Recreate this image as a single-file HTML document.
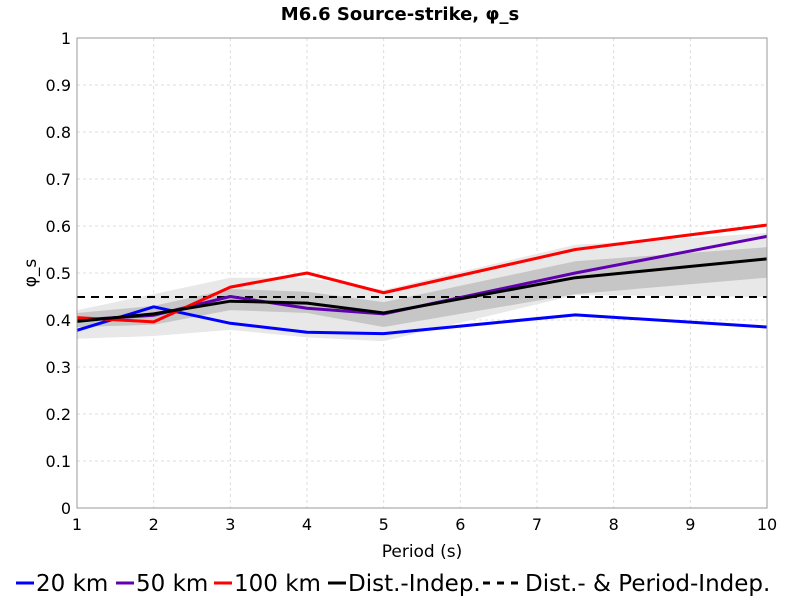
<!DOCTYPE html>
<html><head><meta charset="utf-8"><style>
body{margin:0;background:#fff;font-family:"DejaVu Sans","Liberation Sans",sans-serif}
svg{display:block}
</style></head><body>
<svg id="chart" width="800" height="600" font-family="DejaVu Sans, Liberation Sans, sans-serif"></svg>
<script>
const periods=[1,2,3,4,5,7.5,10];
const km20=[0.378,0.428,0.393,0.374,0.371,0.411,0.385];
const km50=[0.400,0.410,0.450,0.425,0.413,0.500,0.578];
const km100=[0.405,0.396,0.470,0.500,0.458,0.550,0.602];
const indep=[0.397,0.413,0.440,0.436,0.415,0.490,0.530];
const darkLo=[0.385,0.390,0.421,0.415,0.385,0.455,0.490];
const darkHi=[0.415,0.430,0.466,0.460,0.438,0.525,0.555];
const lightLo=[0.360,0.366,0.379,0.363,0.355,0.453,0.449];
const lightHi=[0.421,0.455,0.490,0.490,0.464,0.560,0.585];
const periodIndep=0.449;
const xTicks=[1,2,3,4,5,6,7,8,9,10];
const yTicks=[0,0.1,0.2,0.3,0.4,0.5,0.6,0.7,0.8,0.9,1];
const X0=77,X1=767,Y0=508,Y1=38;
const sx=v=>X0+(v-1)/9*(X1-X0);
const sy=v=>Y0-v*(Y0-Y1);
const svg=document.getElementById('chart');
const NS='http://www.w3.org/2000/svg';
function mk(t,a,p){const e=document.createElementNS(NS,t);for(const k in a)e.setAttribute(k,a[k]);(p||svg).appendChild(e);return e;}
let e;
e=mk('rect',{x:X0,y:Y1,width:X1-X0,height:Y0-Y1,fill:'#fff'});


xTicks.forEach(t=>{
 e=mk('line',{x1:sx(t),x2:sx(t),y1:Y1,y2:Y0,stroke:'#ddd','stroke-dasharray':'3,3'});
 
 
 e=mk('text',{x:sx(t),y:Y0+22,'text-anchor':'middle','font-size':16});e.textContent=t;
 
 
});
yTicks.forEach(t=>{
 e=mk('line',{x1:X0,x2:X1,y1:sy(t),y2:sy(t),stroke:'#ddd','stroke-dasharray':'3,3'});
 
 
 e=mk('text',{x:X0-6,y:sy(t)+6,'text-anchor':'end','font-size':16});e.textContent=String(t);
 
 
});
function band(lo,hi,fill,name){
 let d=periods.map((p,i)=>(i?'L':'M')+sx(p)+','+sy(hi[i])).join('');
 for(let i=periods.length-1;i>=0;i--)d+='L'+sx(periods[i])+','+sy(lo[i]);
 const b=mk('path',{d:d+'Z',fill:fill});
 
 
}
band(lightLo,lightHi,'#e8e8e8','light-band');
band(darkLo,darkHi,'#c6c6c6','dark-band');
e=mk('line',{x1:X0,x2:X1,y1:sy(periodIndep),y2:sy(periodIndep),stroke:'#000','stroke-width':2,'stroke-dasharray':'8,6'});


function line(vals,color,name){
 const l=mk('polyline',{points:periods.map((p,i)=>sx(p)+','+sy(vals[i])).join(' '),fill:'none',stroke:color,'stroke-width':3,'stroke-linejoin':'round'});
 
 
}
line(km20,'#0000ff','series-20km');
line(km50,'#6000b0','series-50km');
line(km100,'#ff0000','series-100km');
line(indep,'#000','series-dist-indep');
e=mk('rect',{x:X0,y:Y1,width:X1-X0,height:Y0-Y1,fill:'none',stroke:'#999'});


e=mk('text',{x:400,y:20,'text-anchor':'middle','font-size':18,'font-weight':'bold'});e.textContent='M6.6 Source-strike, φ_s';


e=mk('text',{x:422,y:557,'text-anchor':'middle','font-size':17});e.textContent='Period (s)';


e=mk('text',{x:36,y:273,'text-anchor':'middle','font-size':17,transform:'rotate(-90 36 273)'});e.textContent='φ_s';


const legend=[['20 km','#0000ff',16,36,null],['50 km','#6000b0',116,136,null],['100 km','#ff0000',214,234,null],['Dist.-Indep.','#000',328,348,null],['Dist.- & Period-Indep.','#000',483,525,'7,7']];
legend.forEach(([lab,c,x,tx,dash])=>{
 const g=mk('g',{});
 
 
 const a={x1:x,x2:dash?x+36:x+18,y1:583,y2:583,stroke:c,'stroke-width':3};if(dash)a['stroke-dasharray']=dash;
 mk('line',a,g);
 const t=mk('text',{x:tx,y:591,'font-size':23,textLength:null},g);t.removeAttribute('textLength');t.textContent=lab;
});
</script>
</body></html>
